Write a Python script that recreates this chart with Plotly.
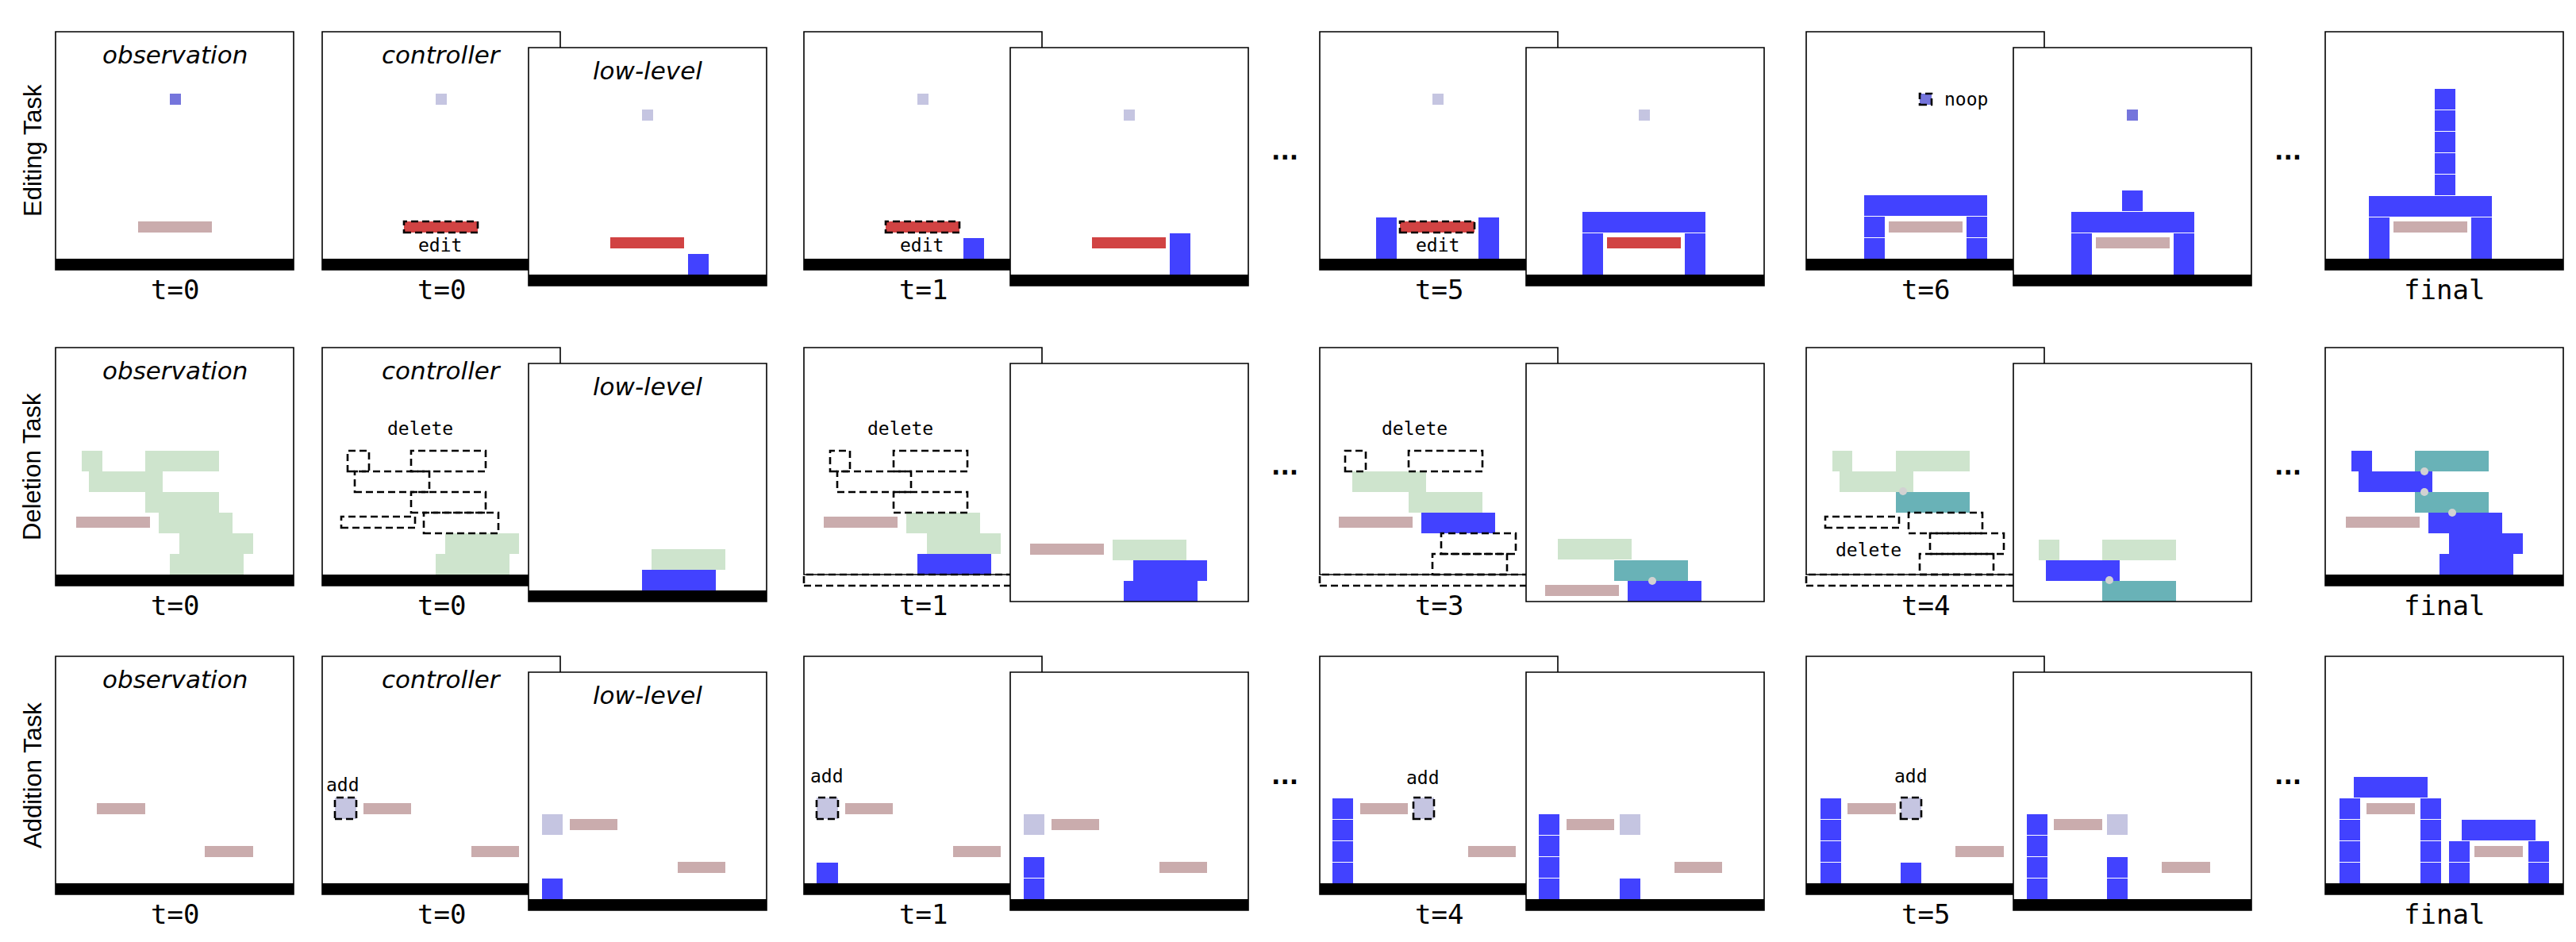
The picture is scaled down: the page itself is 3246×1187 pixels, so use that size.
import plotly.graph_objects as go

W, H = 3246, 1187

# ---------------- data: blocks per panel, panel-local pixels, y = 0 at ground top ----------------
# (kind, x0, x1, y0, y1)
EDIT_OBS = [("target", 144, 158, 194, 208), ("pink", 104, 197, 33, 47)]
EDIT_CTRL_T0 = [("ghost", 143, 157, 194, 208), ("red_d", 103, 196, 33, 47)]
EDIT_LOW_T0 = [("ghost", 143, 157, 194, 208), ("red", 103, 196, 33, 47), ("blue", 201, 227, 0, 26)]
EDIT_CTRL_T1 = [("ghost", 143, 157, 194, 208), ("red_d", 103, 196, 33, 47), ("blue", 201, 227, 0, 26)]
EDIT_LOW_T1 = [("ghost", 143, 157, 194, 208), ("red", 103, 196, 33, 47), ("blue", 201, 227, 0, 52)]
EDIT_CTRL_T5 = [("ghost", 142, 156, 194, 208), ("blue", 71, 97, 0, 52), ("blue", 200, 226, 0, 52),
                ("red_d", 101, 195, 33, 47)]
EDIT_LOW_T5 = [("ghost", 142, 156, 194, 208), ("blue", 71, 97, 0, 52), ("blue", 200, 226, 0, 52),
               ("blue", 71, 226, 53, 79), ("red", 102, 195, 33, 47)]
EDIT_CTRL_T6 = [("target_d", 143, 158, 194, 208), ("blue", 73, 99, 0, 26), ("blue", 73, 99, 27, 53),
                ("blue", 202, 228, 0, 26), ("blue", 202, 228, 27, 53), ("blue", 73, 228, 54, 80),
                ("pink", 104, 197, 33, 47)]
EDIT_LOW_T6 = [("target", 143, 157, 194, 208), ("blue", 73, 99, 0, 52), ("blue", 202, 228, 0, 52),
               ("blue", 73, 228, 53, 79), ("blue", 137, 163, 80, 106), ("pink", 104, 197, 33, 47)]
EDIT_FINAL = [("blue", 55, 81, 0, 52), ("blue", 184, 210, 0, 52), ("blue", 55, 210, 53, 79),
              ("blue", 138, 164, 80, 106), ("blue", 138, 164, 107, 133), ("blue", 138, 164, 134, 160),
              ("blue", 138, 164, 161, 187), ("blue", 138, 164, 188, 214), ("pink", 86, 179, 33, 47)]

DEL_OBS = [("green", 33, 59, 130, 156), ("green", 113, 206, 130, 156), ("green", 42, 135, 104, 130),
           ("green", 113, 206, 78, 104), ("green", 130, 223, 52, 78), ("green", 156, 249, 26, 52),
           ("green", 144, 237, 0, 26), ("pink", 26, 119, 59, 73)]
DEL_CTRL_T0 = [("dash", 32, 59, 130, 156), ("dash", 112, 206, 130, 156), ("dash", 41, 135, 104, 130),
               ("dash", 112, 206, 78, 104), ("dash", 24, 117, 59, 73), ("dash", 128, 222, 52, 78),
               ("green", 155, 248, 26, 52), ("green", 143, 236, 0, 26)]
DEL_LOW_T0 = [("green", 155, 248, 26, 52), ("blue", 143, 236, 0, 26)]
DEL_CTRL_T1 = [("dash", 33, 58, 130, 156), ("dash", 113, 206, 130, 156), ("dash", 42, 135, 104, 130),
               ("dash", 113, 206, 78, 104), ("pink", 25, 118, 59, 73), ("green", 129, 222, 52, 78),
               ("green", 155, 248, 26, 52), ("blue", 143, 236, 0, 26)]
DEL_LOW_T1 = [("pink", 25, 118, 45, 59), ("green", 129, 222, 38, 64), ("blue", 155, 248, 12, 38),
              ("blue", 143, 236, -14, 12)]
DEL_CTRL_T3 = [("dash", 32, 58, 130, 156), ("dash", 112, 205, 130, 156), ("green", 41, 134, 104, 130),
               ("green", 112, 205, 78, 104), ("pink", 24, 117, 59, 73), ("blue", 128, 221, 52, 78),
               ("dash", 153, 247, 26, 52), ("dash", 142, 236, 0, 26)]
DEL_LOW_T3 = [("green", 40, 133, 39, 65), ("teal", 111, 204, 12, 38), ("blue", 128, 221, -14, 12),
              ("pink", 24, 117, -7, 7)]
DEL_CTRL_T4 = [("green", 33, 58, 130, 156), ("green", 113, 206, 130, 156), ("green", 42, 135, 104, 130),
               ("teal", 113, 206, 78, 104), ("dash", 24, 117, 59, 73), ("dash", 129, 222, 52, 78),
               ("dash", 156, 249, 26, 52), ("dash", 143, 236, 0, 26)]
DEL_LOW_T4 = [("green", 32, 58, 38, 64), ("green", 112, 205, 38, 64), ("blue", 41, 134, 12, 38),
              ("teal", 112, 205, -14, 12)]
DEL_FINAL = [("blue", 33, 59, 130, 156), ("teal", 113, 206, 130, 156), ("blue", 42, 135, 104, 130),
             ("teal", 113, 206, 78, 104), ("pink", 26, 119, 59, 73), ("blue", 130, 223, 52, 78),
             ("blue", 156, 249, 26, 52), ("blue", 144, 237, 0, 26)]

# joint markers (x, y) in panel-local pixels
DEL_JOINTS_LOW_T3 = [(159, 12)]
DEL_JOINTS_CTRL_T4 = [(122, 105)]
DEL_JOINTS_LOW_T4 = [(121, 13)]
DEL_JOINTS_FINAL = [(125, 130), (125, 104), (160, 78)]

ADD_OBS = [("pink", 52, 113, 87, 101), ("pink", 188, 249, 33, 47)]
ADD_CTRL_T0 = [("ghost_d", 16, 43, 81, 108), ("pink", 52, 112, 87, 101), ("pink", 188, 248, 33, 47)]
ADD_LOW_T0 = [("ghost", 17, 43, 81, 107), ("blue", 17, 43, 0, 26), ("pink", 52, 112, 87, 101),
              ("pink", 188, 248, 33, 47)]
ADD_CTRL_T1 = [("ghost_d", 16, 43, 81, 108), ("blue", 16, 43, 0, 26), ("pink", 52, 112, 87, 101),
               ("pink", 188, 248, 33, 47)]
ADD_LOW_T1 = [("ghost", 17, 43, 81, 107), ("blue", 17, 43, 0, 26), ("blue", 17, 43, 27, 53),
              ("pink", 52, 112, 87, 101), ("pink", 188, 248, 33, 47)]
ADD_CTRL_T4 = [("blue", 16, 42, 0, 26), ("blue", 16, 42, 27, 53), ("blue", 16, 42, 54, 80),
               ("blue", 16, 42, 81, 107), ("pink", 51, 111, 87, 101), ("ghost_d", 118, 144, 81, 108),
               ("pink", 187, 247, 33, 47)]
ADD_LOW_T4 = [("blue", 16, 42, 0, 26), ("blue", 16, 42, 27, 53), ("blue", 16, 42, 54, 80),
              ("blue", 16, 42, 81, 107), ("pink", 51, 111, 87, 101), ("ghost", 118, 144, 81, 107),
              ("blue", 118, 144, 0, 26), ("pink", 187, 247, 33, 47)]
ADD_CTRL_T5 = [("blue", 18, 44, 0, 26), ("blue", 18, 44, 27, 53), ("blue", 18, 44, 54, 80),
               ("blue", 18, 44, 81, 107), ("pink", 52, 113, 87, 101), ("ghost_d", 119, 145, 81, 108),
               ("blue", 119, 145, 0, 26), ("pink", 188, 249, 33, 47)]
ADD_LOW_T5 = [("blue", 17, 43, 0, 26), ("blue", 17, 43, 27, 53), ("blue", 17, 43, 54, 80),
              ("blue", 17, 43, 81, 107), ("pink", 51, 112, 87, 101), ("ghost", 118, 144, 81, 107),
              ("blue", 118, 144, 0, 26), ("blue", 118, 144, 27, 53), ("pink", 187, 248, 33, 47)]
ADD_FINAL = [("blue", 18, 44, 0, 26), ("blue", 18, 44, 27, 53), ("blue", 18, 44, 54, 80),
             ("blue", 18, 44, 81, 107), ("blue", 120, 146, 0, 26), ("blue", 120, 146, 27, 53),
             ("blue", 120, 146, 54, 80), ("blue", 120, 146, 81, 107), ("blue", 36, 129, 108, 134),
             ("pink", 52, 113, 87, 101), ("blue", 156, 182, 0, 26), ("blue", 156, 182, 27, 53),
             ("blue", 256, 282, 0, 26), ("blue", 256, 282, 27, 53), ("blue", 172, 265, 54, 80),
             ("pink", 188, 249, 33, 47)]

ROW_NAMES = ["Editing Task", "Deletion Task", "Addition Task"]
PANEL_TITLES = ["observation", "controller", "low-level"]
EDIT_TIMES = ["t=0", "t=0", "t=1", "t=5", "t=6", "final"]
DEL_TIMES = ["t=0", "t=0", "t=1", "t=3", "t=4", "final"]
ADD_TIMES = ["t=0", "t=0", "t=1", "t=4", "t=5", "final"]
EDIT_GROUNDS = ["solid"] * 10
DEL_GROUNDS = ["solid", "solid", "solid", "dashed", "none", "dashed", "none", "dashed", "none", "solid"]
ADD_GROUNDS = ["solid"] * 10

# in-panel command labels: (row, panel, text, x, y)
COMMANDS = [(0, 1, "edit", 148, 17), (0, 3, "edit", 148, 17), (0, 5, "edit", 149, 17),
            (0, 7, "noop", 201, 201),
            (1, 1, "delete", 123, 184), (1, 3, "delete", 121, 184), (1, 5, "delete", 120, 184),
            (1, 7, "delete", 78, 31),
            (2, 1, "add", 26, 124), (2, 3, "add", 29, 135), (2, 5, "add", 130, 133),
            (2, 7, "add", 132, 135)]

# ---------------- layout / style ----------------
PANEL_LEFT = [62, 398, 658, 1005, 1265, 1655, 1915, 2268, 2529, 2922]
PANEL_LEVEL = ["U", "U", "L", "U", "L", "U", "L", "U", "L", "U"]
ROW_GROUND = [318, 716, 1105]
ROW_DOTS_Y = [191, 589, 978]
DOTS_X = [1611, 2875]
LOW_DROP = 20
PW, TOP, GH, PAD = 300, 286, 14, 4

COLORS = {"blue": "#4242ff", "ghost": "#c5c5e1", "target": "#7575dc", "pink": "#caacad",
          "red": "#d14343", "green": "#cee4cd", "teal": "#69b2b7"}
JOINT_COLOR = "#d2d2d2"
DASH = "9px,5px"
DASH_W = 2.6

ROWS = [
    dict(panels=[EDIT_OBS, EDIT_CTRL_T0, EDIT_LOW_T0, EDIT_CTRL_T1, EDIT_LOW_T1, EDIT_CTRL_T5,
                 EDIT_LOW_T5, EDIT_CTRL_T6, EDIT_LOW_T6, EDIT_FINAL],
         joints=[[]] * 10, grounds=EDIT_GROUNDS, times=EDIT_TIMES),
    dict(panels=[DEL_OBS, DEL_CTRL_T0, DEL_LOW_T0, DEL_CTRL_T1, DEL_LOW_T1, DEL_CTRL_T3,
                 DEL_LOW_T3, DEL_CTRL_T4, DEL_LOW_T4, DEL_FINAL],
         joints=[[], [], [], [], [], [], DEL_JOINTS_LOW_T3, DEL_JOINTS_CTRL_T4, DEL_JOINTS_LOW_T4,
                 DEL_JOINTS_FINAL],
         grounds=DEL_GROUNDS, times=DEL_TIMES),
    dict(panels=[ADD_OBS, ADD_CTRL_T0, ADD_LOW_T0, ADD_CTRL_T1, ADD_LOW_T1, ADD_CTRL_T4,
                 ADD_LOW_T4, ADD_CTRL_T5, ADD_LOW_T5, ADD_FINAL],
         joints=[[]] * 10, grounds=ADD_GROUNDS, times=ADD_TIMES),
]


def rect(xr, yr, x0, x1, y0, y1, fill=None, lw=0, dash=None):
    line = dict(width=lw, color="black")
    if dash:
        line["dash"] = dash
    return dict(type="rect", xref=xr, yref=yr, x0=x0, x1=x1, y0=y0, y1=y1, layer="above",
                fillcolor=fill if fill else "rgba(0,0,0,0)", line=line)


fig = go.Figure()
axes = {}
shapes = []
annotations = []
k = 0
for r, row in enumerate(ROWS):
    t_idx = 0
    for p in range(10):
        k += 1
        L = PANEL_LEFT[p]
        G = ROW_GROUND[r] + (LOW_DROP if PANEL_LEVEL[p] == "L" else 0)
        sx = "" if k == 1 else str(k)
        xr, yr = "x" + sx, "y" + sx
        axes["xaxis" + sx] = dict(domain=[(L - PAD) / W, (L + PW + PAD) / W], range=[-PAD, PW + PAD],
                                  visible=False, fixedrange=True, anchor=yr)
        axes["yaxis" + sx] = dict(domain=[1 - (G + GH + PAD) / H, 1 - (G - TOP - PAD) / H],
                                  range=[-GH - PAD, TOP + PAD], visible=False, fixedrange=True,
                                  anchor=xr)
        fig.add_trace(go.Scatter(x=[None], y=[None], xaxis=xr, yaxis=yr, mode="markers",
                                 showlegend=False, hoverinfo="skip"))
        ground = row["grounds"][p]
        # panel background
        shapes.append(rect(xr, yr, 0, PW, -GH, TOP, fill="white"))
        if ground == "solid":
            shapes.append(rect(xr, yr, 0, PW, -GH, 0, fill="black"))
        blocks = row["panels"][p]
        for kind, x0, x1, y0, y1 in blocks:
            base = kind.replace("_d", "")
            if base != "dash":
                shapes.append(rect(xr, yr, x0, x1, y0, y1, fill=COLORS[base]))
        for kind, x0, x1, y0, y1 in blocks:
            if kind == "dash" or kind.endswith("_d"):
                shapes.append(rect(xr, yr, x0, x1, y0, y1, lw=DASH_W, dash=DASH))
        for jx, jy in row["joints"][p]:
            shapes.append(dict(type="circle", xref=xr, yref=yr, x0=jx - 5, x1=jx + 5, y0=jy - 5,
                               y1=jy + 5, fillcolor=JOINT_COLOR, line=dict(width=0), layer="above"))
        # frame
        if ground == "dashed":
            shapes.append(rect(xr, yr, 0, PW, 0, TOP, lw=1.6))
            shapes.append(rect(xr, yr, 0, PW, -GH, 0, lw=DASH_W, dash=DASH))
        else:
            shapes.append(rect(xr, yr, 0, PW, -GH, TOP, lw=1.6))
        # titles
        if p < 3:
            annotations.append(dict(xref=xr, yref=yr, x=150, y=257, text="<i>%s</i>" % PANEL_TITLES[p],
                                    showarrow=False, xanchor="center", yanchor="middle",
                                    font=dict(family="DejaVu Sans", size=31, color="black")))
        # time labels under upper panels
        if PANEL_LEVEL[p] == "U":
            annotations.append(dict(xref="paper", yref="paper", x=(L + PW / 2) / W,
                                    y=1 - (G + 39) / H, text=row["times"][t_idx], showarrow=False,
                                    xanchor="center", yanchor="middle",
                                    font=dict(family="DejaVu Sans Mono", size=34, color="black")))
            t_idx += 1
        for (cr, cp, txt, cx, cy) in COMMANDS:
            if cr == r and cp == p:
                annotations.append(dict(xref=xr, yref=yr, x=cx, y=cy, text=txt, showarrow=False,
                                        xanchor="center", yanchor="middle",
                                        font=dict(family="DejaVu Sans Mono", size=23, color="black")))
    # row label
    annotations.append(dict(xref="paper", yref="paper", x=33 / W,
                            y=1 - (ROW_GROUND[r] - 136) / H, text=ROW_NAMES[r], textangle=-90,
                            showarrow=False, xanchor="center", yanchor="middle",
                            font=dict(family="Liberation Sans", size=31, color="black")))
    for dx in DOTS_X:
        annotations.append(dict(xref="paper", yref="paper", x=dx / W, y=1 - (ROW_DOTS_Y[r] - 9) / H,
                                text="<b>...</b>", showarrow=False, xanchor="center",
                                yanchor="middle",
                                font=dict(family="DejaVu Sans", size=30, color="black")))

fig.update_layout(width=W, height=H, margin=dict(l=0, r=0, t=0, b=0, pad=0),
                  paper_bgcolor="white", plot_bgcolor="rgba(0,0,0,0)", showlegend=False,
                  shapes=shapes, annotations=annotations, **axes)
fig.write_html("out.html", config={"displayModeBar": False})
